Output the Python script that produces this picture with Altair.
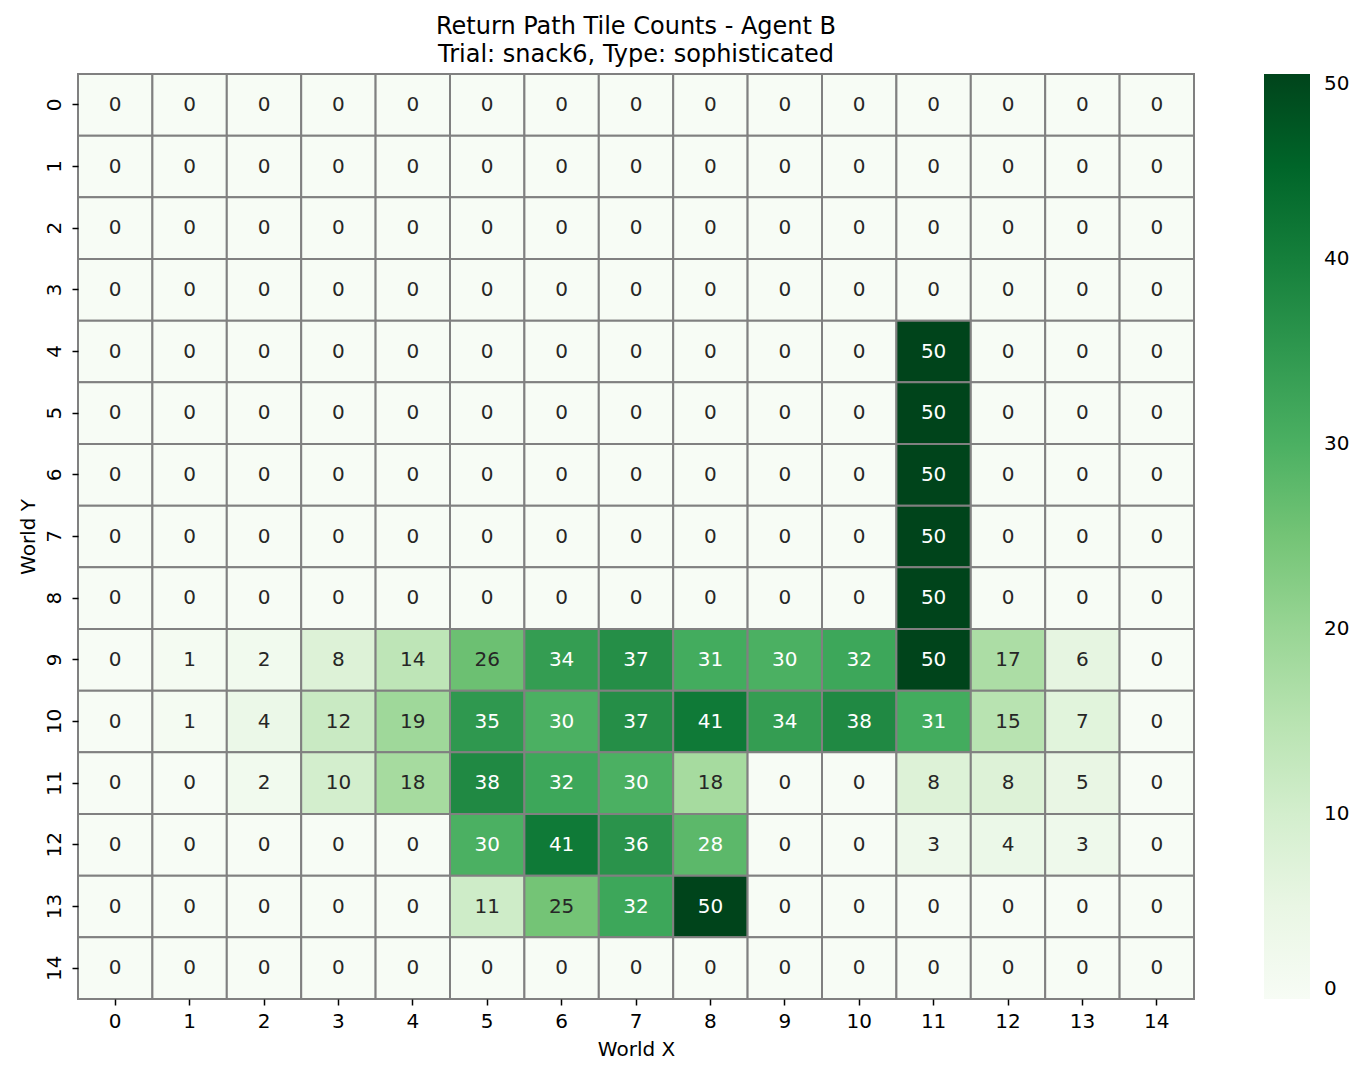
import altair as alt
import pandas as pd

x_labels = list(range(15))
y_labels = list(range(15))

row_0 = [0] * 15
row_1 = [0] * 15
row_2 = [0] * 15
row_3 = [0] * 15
row_4 = [0, 0, 0, 0, 0, 0, 0, 0, 0, 0, 0, 50, 0, 0, 0]
row_5 = [0, 0, 0, 0, 0, 0, 0, 0, 0, 0, 0, 50, 0, 0, 0]
row_6 = [0, 0, 0, 0, 0, 0, 0, 0, 0, 0, 0, 50, 0, 0, 0]
row_7 = [0, 0, 0, 0, 0, 0, 0, 0, 0, 0, 0, 50, 0, 0, 0]
row_8 = [0, 0, 0, 0, 0, 0, 0, 0, 0, 0, 0, 50, 0, 0, 0]
row_9 = [0, 1, 2, 8, 14, 26, 34, 37, 31, 30, 32, 50, 17, 6, 0]
row_10 = [0, 1, 4, 12, 19, 35, 30, 37, 41, 34, 38, 31, 15, 7, 0]
row_11 = [0, 0, 2, 10, 18, 38, 32, 30, 18, 0, 0, 8, 8, 5, 0]
row_12 = [0, 0, 0, 0, 0, 30, 41, 36, 28, 0, 0, 3, 4, 3, 0]
row_13 = [0, 0, 0, 0, 0, 11, 25, 32, 50, 0, 0, 0, 0, 0, 0]
row_14 = [0] * 15

rows = [row_0, row_1, row_2, row_3, row_4, row_5, row_6, row_7,
        row_8, row_9, row_10, row_11, row_12, row_13, row_14]

greens = ["#f7fcf5", "#e5f5e0", "#c7e9c0", "#a1d99b", "#74c476",
          "#41ab5d", "#238b45", "#006d2c", "#00441b"]
stops = [50 * i / 8 for i in range(9)]

records = []
for yi, row in zip(y_labels, rows):
    for xi, v in zip(x_labels, row):
        records.append({"x": xi, "y": yi, "count": v})
df = pd.DataFrame(records)

FONT = "DejaVu Sans"
FS = 20

base = alt.Chart(df).encode(
    x=alt.X("x:O", sort=x_labels, title="World X",
            scale=alt.Scale(paddingInner=0, paddingOuter=0),
            axis=alt.Axis(labelAngle=0, domain=False, tickSize=6, tickWidth=1.5,
                          tickColor="black",
                          labelFontSize=FS, titleFontSize=FS, labelColor="black",
                          titleColor="black", labelFont=FONT, titleFont=FONT,
                          titleFontWeight="normal", labelPadding=6, titlePadding=8)),
    y=alt.Y("y:O", sort=y_labels, title="World Y",
            scale=alt.Scale(paddingInner=0, paddingOuter=0),
            axis=alt.Axis(labelAngle=270, domain=False, tickSize=6, tickWidth=1.5,
                          tickColor="black",
                          labelFontSize=FS, titleFontSize=FS, labelColor="black",
                          titleColor="black", labelFont=FONT, titleFont=FONT,
                          titleFontWeight="normal", labelPadding=8, titlePadding=6,
                          labelBaseline="bottom", labelAlign="center")),
)

rects = base.mark_rect(stroke="#808080", strokeWidth=2).encode(
    color=alt.Color("count:Q",
                    scale=alt.Scale(domain=stops, range=greens, interpolate="rgb"),
                    legend=alt.Legend(title=None, gradientLength=925, gradientThickness=46,
                                      labelFontSize=FS, labelFont=FONT, labelColor="black",
                                      values=[0, 10, 20, 30, 40, 50], offset=70,
                                      labelOffset=14, labelBaseline="middle",
                                      gradientStrokeWidth=0)),
)

texts = base.mark_text(fontSize=FS, font=FONT).encode(
    text=alt.Text("count:Q"),
    color=alt.condition(alt.datum.count >= 27, alt.value("white"), alt.value("#262626")),
)

chart = alt.layer(rects, texts).properties(
    width=1116, height=925,
    padding={"left": 10, "top": 7, "right": 5, "bottom": 5},
    title=alt.TitleParams(text=["Return Path Tile Counts - Agent B",
                                "Trial: snack6, Type: sophisticated"],
                          fontSize=24, font=FONT, fontWeight="normal", color="black",
                          anchor="middle", lineHeight=28, offset=6),
).configure_view(stroke=None)

chart.save("out.html", embed_options={"renderer": "svg", "actions": False})
